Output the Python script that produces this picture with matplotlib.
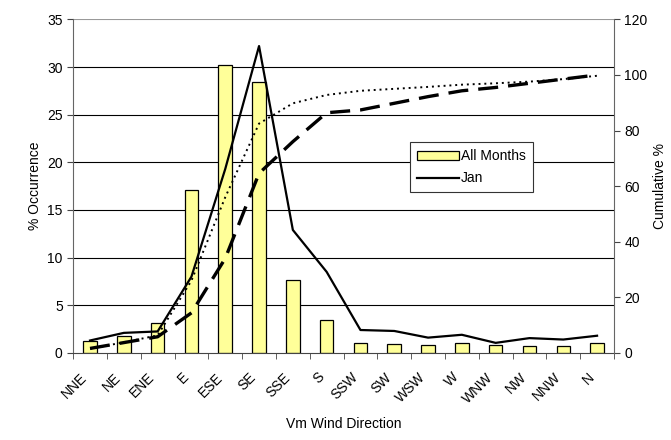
import matplotlib
matplotlib.use("Agg")
import matplotlib.pyplot as plt
import matplotlib.transforms as mtransforms
import numpy as np

plt.rcParams['font.family'] = ['Liberation Sans', 'DejaVu Sans']

directions = ["NNE", "NE", "ENE", "E", "ESE", "SE", "SSE", "S",
              "SSW", "SW", "WSW", "W", "WNW", "NW", "NNW", "N"]
# % occurrence per direction
all_months = [1.2, 1.8, 3.1, 17.1, 30.2, 28.4, 7.7, 3.4,
              1.0, 0.9, 0.8, 1.0, 0.8, 0.7, 0.7, 1.0]
jan = [1.3, 2.1, 2.25, 8.0, 19.3, 32.2, 12.9, 8.5,
       2.4, 2.3, 1.6, 1.9, 1.05, 1.55, 1.4, 1.8]
# cumulative %
cum_all = [1.5, 3.8, 6.3, 26.0, 56.0, 82.5, 89.8, 92.8,
           94.3, 95.0, 95.7, 96.5, 97.0, 97.6, 98.5, 99.7]
cum_jan = [1.6, 3.7, 5.8, 14.4, 34.0, 64.6, 76.0, 86.4,
           87.4, 89.8, 92.2, 94.3, 95.5, 97.0, 98.5, 100.0]

x = np.arange(len(directions))
fs = 10

fig = plt.figure(figsize=(6.71, 4.4), dpi=100)
ax = fig.add_axes([0.109, 0.198, 0.806, 0.758])

ax.set_axisbelow(True)
for v in range(5, 35, 5):
    ax.axhline(v, color='black', lw=0.8, zorder=0)
ax.axhline(35, color='#999999', lw=0.8, zorder=0)

bars = ax.bar(x, all_months, width=0.4, color='#FFFF99', edgecolor='black',
              lw=0.9, label='All Months', zorder=2)
jan_line, = ax.plot(x, jan, color='black', lw=1.6, label='Jan', zorder=3)

ax.set_xlim(-0.5, len(directions) - 0.5)
ax.set_ylim(0, 35)
ax.set_yticks(range(0, 36, 5))
ax.set_ylabel('% Occurrence', fontsize=fs)
ax.set_xlabel('Vm Wind Direction', fontsize=fs, labelpad=8)

ax.set_xticks(x)
ax.set_xticklabels(directions, rotation=45, ha='right', va='center',
                   rotation_mode='anchor', fontsize=fs)
ax.tick_params(axis='x', which='major', length=0, pad=16)
# nudge the slanted labels a little to the left
shift = mtransforms.ScaledTranslation(-5 / 100, 0, fig.dpi_scale_trans)
for lbl in ax.get_xticklabels():
    lbl.set_transform(lbl.get_transform() + shift)
ax.set_xticks(np.arange(-0.5, len(directions), 1), minor=True)
ax.tick_params(axis='x', which='minor', length=4, color='#444444')
ax.tick_params(axis='y', labelsize=fs, length=4, color='#444444')

for side in ['top', 'right']:
    ax.spines[side].set_visible(False)
ax.spines['left'].set_color('#666666')
ax.spines['bottom'].set_color('#444444')

ax2 = ax.twinx()
ax2.plot(x, cum_all, color='black', lw=1.4, linestyle=(0, (1, 2)), zorder=3)
ax2.plot(x, cum_jan, color='black', lw=2.4, linestyle=(0, (6, 3)), zorder=3)
ax2.set_ylim(0, 120)
ax2.set_yticks(range(0, 121, 20))
ax2.set_ylabel('Cumulative %', fontsize=fs)
ax2.tick_params(axis='y', labelsize=fs, length=4, color='#444444')
for side in ['top', 'left', 'bottom']:
    ax2.spines[side].set_visible(False)
ax2.spines['right'].set_color('#666666')

leg = ax2.legend([bars, jan_line], ['All Months', 'Jan'],
                 loc='upper left', bbox_to_anchor=(0.623, 0.632),
                 fontsize=10, frameon=True, fancybox=False,
                 edgecolor='#333333', framealpha=1,
                 handlelength=3.0, handleheight=0.65, borderpad=0.5,
                 labelspacing=0.6, handletextpad=0.15, borderaxespad=0)
leg.get_frame().set_linewidth(0.8)
leg.set_zorder(5)

fig.savefig('out.png', dpi=100)
